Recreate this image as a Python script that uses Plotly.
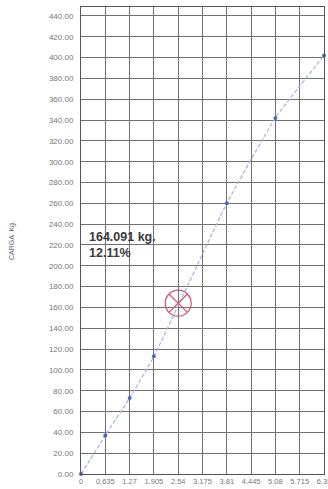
import plotly.graph_objects as go

# Load test readings: deflection (x) vs. load (kg)
deflexion = [0, 0.635, 1.27, 1.905, 3.81, 5.08, 6.35]
carga = [0, 37, 73, 113, 260, 342, 402]

# Reference point marked on the curve
punto_x = [2.54]
punto_y = [164.091]
punto_texto = "164.091 kg.<br>12.11%"

x_ticks = [0, 0.635, 1.27, 1.905, 2.54, 3.175, 3.81, 4.445, 5.08, 5.715, 6.35]
x_labels = ["0", "0.635", "1.27", "1.905", "2.54", "3.175", "3.81", "4.445", "5.08", "5.715", "6.35"]
y_ticks = list(range(0, 441, 20))
y_labels = [f"{v:.2f}" for v in y_ticks]

fig = go.Figure()

fig.add_trace(go.Scatter(
    x=deflexion, y=carga, mode="lines+markers",
    line=dict(color="#9fb6de", width=1.2, dash="4px,2px", shape="spline", smoothing=0.4),
    marker=dict(color="#4a68c0", size=4),
    showlegend=False, cliponaxis=False,
))

fig.add_trace(go.Scatter(
    x=punto_x, y=punto_y, mode="markers",
    marker=dict(symbol="circle-x-open", size=26, color="#cf5a72", line=dict(width=1.3)),
    showlegend=False,
))

fig.add_annotation(
    x=0, y=punto_y[0] + 56, xref="x", yref="y", xanchor="left", yanchor="middle",
    xshift=6, text=punto_texto, showarrow=False, align="left",
    font=dict(family="Liberation Sans, Arial", size=12.5, color="#3a3a3a", weight="bold"),
)

fig.update_xaxes(
    range=[0, 6.35], tickmode="array", tickvals=x_ticks, ticktext=x_labels,
    showgrid=True, gridcolor="#707070", gridwidth=1,
    showline=True, linecolor="#555", linewidth=1, mirror=True,
    zeroline=False, ticks="", ticklen=0, ticklabeloverflow="allow", automargin=False,
    tickfont=dict(family="Liberation Sans, Arial", size=7.5, color="#777"),
)
fig.update_yaxes(
    range=[0, 448.6], tickmode="array", tickvals=y_ticks, ticktext=y_labels,
    showgrid=True, gridcolor="#707070", gridwidth=1,
    showline=True, linecolor="#555", linewidth=1, mirror=True,
    zeroline=False, ticks="", ticklen=0, ticklabelstandoff=5, automargin=False,
    tickfont=dict(family="Liberation Sans, Arial", size=8, color="#777"),
    title=dict(text="CARGA  Kg.", standoff=33,
               font=dict(family="Liberation Sans, Arial", size=7, color="#666")),
)

fig.update_layout(
    width=328, height=489,
    margin=dict(l=81, r=4, t=7, b=15),
    paper_bgcolor="white", plot_bgcolor="white",
)

fig.write_html("out.html")
